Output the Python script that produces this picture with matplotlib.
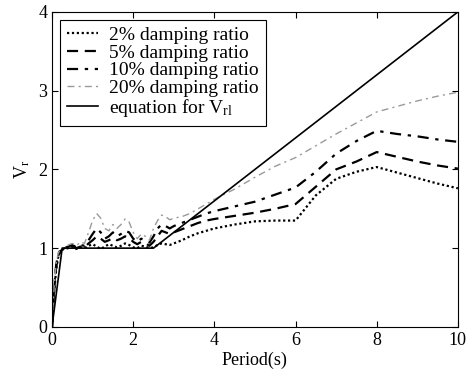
import numpy as np
import matplotlib
matplotlib.use("Agg")
import matplotlib.pyplot as plt

plt.rcParams['font.family'] = ['Liberation Serif', 'DejaVu Serif']
plt.rcParams['mathtext.fontset'] = 'custom'
plt.rcParams['mathtext.rm'] = 'Liberation Serif'
plt.rcParams['mathtext.it'] = 'Liberation Serif'

# periods (s)
period = [0, 0.05, 0.1, 0.15, 0.2, 0.25, 0.3, 0.4, 0.5, 0.6, 0.7, 0.8, 0.9, 1.0,
          1.1, 1.2, 1.3, 1.4, 1.5, 1.6, 1.7, 1.8, 1.9, 2.0, 2.1, 2.2, 2.3, 2.4,
          2.5, 2.6, 2.7, 2.8, 2.9, 3.0, 3.2, 3.4, 3.6, 3.8, 4.0, 4.5, 5.0, 5.5,
          6.0, 6.5, 7.0, 7.5, 8.0, 8.5, 9.0, 9.5, 10.0]

vr_2 = [0, 0.42, 0.72, 0.88, 0.95, 0.98, 0.99, 1.0, 1.02, 0.99, 1.01, 1.0, 1.03,
        1.05, 1.02, 0.99, 1.02, 1.05, 1.03, 1.01, 1.03, 1.06, 1.04, 1.01, 1.0,
        1.03, 1.02, 1.0, 1.01, 1.04, 1.06, 1.05, 1.04, 1.06, 1.1, 1.15, 1.19,
        1.22, 1.25, 1.3, 1.34, 1.35, 1.35, 1.67, 1.88, 1.97, 2.03, 1.96, 1.89,
        1.82, 1.76]
vr_5 = [0, 0.45, 0.75, 0.9, 0.96, 0.98, 1.0, 1.01, 1.03, 1.0, 1.02, 1.01, 1.06,
        1.1, 1.15, 1.12, 1.08, 1.1, 1.13, 1.1, 1.12, 1.15, 1.13, 1.08, 1.05,
        1.08, 1.06, 1.03, 1.08, 1.15, 1.22, 1.2, 1.18, 1.2, 1.24, 1.28, 1.32,
        1.35, 1.37, 1.41, 1.45, 1.5, 1.56, 1.78, 2.0, 2.1, 2.22, 2.16, 2.1,
        2.05, 2.01]
vr_10 = [0, 0.48, 0.78, 0.92, 0.97, 0.99, 1.0, 1.02, 1.04, 1.01, 1.04, 1.03, 1.1,
         1.18, 1.25, 1.2, 1.12, 1.15, 1.2, 1.15, 1.18, 1.22, 1.2, 1.12, 1.08,
         1.12, 1.1, 1.07, 1.15, 1.25, 1.3, 1.28, 1.25, 1.28, 1.32, 1.36, 1.4,
         1.44, 1.47, 1.53, 1.59, 1.68, 1.77, 1.97, 2.2, 2.36, 2.49, 2.45, 2.42,
         2.38, 2.35]
vr_20 = [0, 0.5, 0.8, 0.93, 0.98, 1.0, 1.01, 1.04, 1.06, 1.03, 1.08, 1.06, 1.2,
         1.35, 1.44, 1.38, 1.25, 1.22, 1.3, 1.25, 1.3, 1.37, 1.33, 1.2, 1.12,
         1.18, 1.15, 1.1, 1.25, 1.35, 1.42, 1.4, 1.36, 1.38, 1.4, 1.44, 1.5,
         1.56, 1.62, 1.75, 1.9, 2.04, 2.15, 2.3, 2.45, 2.59, 2.73, 2.8, 2.87,
         2.93, 2.98]

# equation for Vrl
eq_period = [0, 0.25, 2.5, 10]
eq_vr = [0, 1, 1, 4]

fig = plt.figure(figsize=(4.73, 3.85), dpi=100)
ax = fig.add_axes([0.110, 0.151, 0.858, 0.818])

ax.plot(period, vr_2, color='black', lw=1.6, ls=(0, (1, 1.2)), label='2% damping ratio')
ax.plot(period, vr_5, color='black', lw=1.6, ls=(0, (5, 3)), label='5% damping ratio')
ax.plot(period, vr_10, color='black', lw=1.6, ls=(0, (5, 3, 1.5, 3)), label='10% damping ratio')
ax.plot(period, vr_20, color='#9a9a9a', lw=1.0, ls=(0, (5, 3, 1.5, 3)), label='20% damping ratio')
ax.plot(eq_period, eq_vr, color='black', lw=1.2, label='equation for V$_{\\rm rl}$')

ax.set_xlim(0, 10)
ax.set_ylim(0, 4)
ax.set_xticks([0, 2, 4, 6, 8, 10])
ax.set_yticks([0, 1, 2, 3, 4])
ax.tick_params(direction='in', top=True, right=True, labelsize=13, length=4)
ax.set_xlabel('Period(s)', fontsize=13, labelpad=2)
ax.set_ylabel('V$_{\\rm r}$', fontsize=13, labelpad=4)

leg = ax.legend(loc='upper left', fontsize=14, fancybox=False, edgecolor='black',
                borderaxespad=0.4, handlelength=1.6, handletextpad=0.6,
                labelspacing=0.0, borderpad=0.35, framealpha=1)
leg.get_frame().set_linewidth(0.8)

fig.savefig('out.png', dpi=100)
